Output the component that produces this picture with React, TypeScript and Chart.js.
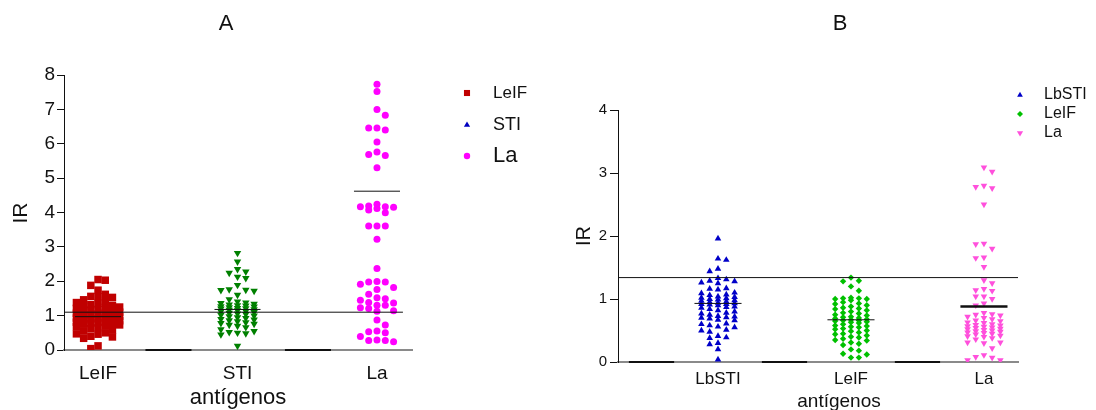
import React, { useEffect, useRef } from 'react';
import { Chart, registerables } from 'chart.js';

Chart.register(...registerables);

const FONT = '"Liberation Sans", Arial, Helvetica, sans-serif';

// ---------- Panel A ----------
const catsA = ['LeIF', 'STI', 'La'];
const yTicksA = [0, 1, 2, 3, 4, 5, 6, 7, 8];
const aLeIF = [2.05, 2.03, 1.88, 1.74, 1.62, 1.56, 1.55, 1.53, 1.46, 1.41, 1.38, 1.36, 1.32, 1.3, 1.27, 1.25, 1.24, 1.21, 1.18, 1.16, 1.14, 1.12, 1.1, 1.08, 1.07, 1.05, 1.02, 1.0, 0.99, 0.97, 0.95, 0.93, 0.92, 0.9, 0.88, 0.86, 0.85, 0.83, 0.81, 0.8, 0.78, 0.77, 0.75, 0.73, 0.7, 0.68, 0.65, 0.62, 0.58, 0.55, 0.5, 0.47, 0.46, 0.4, 0.38, 0.34, 0.12, 0.04];
const aSTI = [2.82, 2.57, 2.35, 2.28, 2.24, 2.13, 2.09, 1.89, 1.76, 1.75, 1.74, 1.72, 1.6, 1.47, 1.41, 1.38, 1.36, 1.34, 1.32, 1.3, 1.29, 1.27, 1.26, 1.24, 1.22, 1.21, 1.2, 1.18, 1.17, 1.15, 1.13, 1.12, 1.1, 1.08, 1.06, 1.04, 1.02, 1.0, 0.98, 0.95, 0.93, 0.9, 0.88, 0.86, 0.83, 0.8, 0.78, 0.76, 0.73, 0.7, 0.66, 0.6, 0.55, 0.52, 0.5, 0.48, 0.45, 0.12];
const aLa = [7.73, 7.52, 7.0, 6.83, 6.46, 6.46, 6.4, 6.05, 5.76, 5.69, 5.66, 5.3, 4.24, 4.19, 4.17, 4.17, 4.15, 4.12, 4.07, 3.99, 3.61, 3.61, 3.61, 3.22, 2.37, 1.99, 1.98, 1.98, 1.91, 1.82, 1.76, 1.62, 1.52, 1.49, 1.45, 1.38, 1.37, 1.3, 1.3, 1.23, 1.21, 1.14, 1.13, 0.87, 0.73, 0.55, 0.53, 0.5, 0.39, 0.29, 0.28, 0.28, 0.24];
const groupLinesA = [0.97, 1.18, 4.62];
const refLineA = 1.1;

// ---------- Panel B ----------
const catsB = ['LbSTI', 'LeIF', 'La'];
const yTicksB = [0, 1, 2, 3, 4];
const bLbSTI = [1.96, 1.64, 1.62, 1.48, 1.44, 1.33, 1.31, 1.29, 1.28, 1.26, 1.25, 1.17, 1.16, 1.15, 1.1, 1.09, 1.07, 1.06, 1.04, 1.03, 1.02, 1.01, 1.0, 0.99, 0.98, 0.97, 0.96, 0.95, 0.94, 0.93, 0.92, 0.92, 0.91, 0.9, 0.88, 0.87, 0.86, 0.84, 0.82, 0.8, 0.78, 0.77, 0.75, 0.73, 0.72, 0.71, 0.7, 0.69, 0.67, 0.66, 0.61, 0.6, 0.58, 0.56, 0.55, 0.51, 0.5, 0.48, 0.41, 0.39, 0.38, 0.3, 0.28, 0.2, 0.04];
const bLeIF = [1.34, 1.29, 1.28, 1.2, 1.13, 1.02, 1.01, 1.01, 1.0, 1.0, 0.98, 0.95, 0.93, 0.92, 0.9, 0.88, 0.86, 0.85, 0.84, 0.82, 0.8, 0.78, 0.77, 0.75, 0.74, 0.72, 0.71, 0.7, 0.69, 0.68, 0.67, 0.66, 0.66, 0.65, 0.64, 0.63, 0.62, 0.6, 0.58, 0.57, 0.56, 0.55, 0.53, 0.52, 0.5, 0.49, 0.47, 0.45, 0.44, 0.42, 0.4, 0.39, 0.37, 0.35, 0.34, 0.31, 0.29, 0.27, 0.2, 0.18, 0.13, 0.12, 0.07, 0.07];
const bLa = [3.09, 3.02, 2.8, 2.78, 2.76, 2.5, 1.88, 1.87, 1.8, 1.66, 1.65, 1.51, 1.3, 1.25, 1.16, 1.14, 1.13, 1.04, 1.04, 1.0, 0.93, 0.9, 0.78, 0.76, 0.75, 0.74, 0.72, 0.7, 0.68, 0.66, 0.65, 0.63, 0.62, 0.6, 0.59, 0.58, 0.57, 0.56, 0.55, 0.54, 0.53, 0.52, 0.51, 0.5, 0.49, 0.48, 0.47, 0.46, 0.45, 0.44, 0.42, 0.41, 0.4, 0.38, 0.36, 0.31, 0.31, 0.3, 0.22, 0.11, 0.08, 0.07, 0.03, 0.03];
const groupLinesB = [0.93, 0.67, 0.88];
const refLineB = 1.34;

type SwarmCfg = { pxX: number; pxY: number; step: number; dist: number; maxK: number };

// deterministic dot-plot layout: spreads points sideways in columns so they do not pile up
function swarm(values: number[], center: number, cfg: SwarmCfg) {
  const order = values.map((_, i) => i).sort((a, b) => values[b] - values[a]);
  const placed: { dx: number; py: number }[] = [];
  const out: { x: number; y: number }[] = new Array(values.length);
  let toggle = 1;
  const minDist = (dx: number, py: number) => {
    let md = Infinity;
    for (const p of placed) {
      const d = Math.hypot(dx - p.dx, py - p.py);
      if (d < md) md = d;
    }
    return md;
  };
  for (const i of order) {
    const py = values[i] * cfg.pxY;
    let chosen: number | null = null;
    let best = 0;
    let bestD = -1;
    for (let k = 0; k <= cfg.maxK && chosen === null; k++) {
      const opts = k === 0 ? [0] : [k * toggle, -k * toggle];
      const free: number[] = [];
      for (const kk of opts) {
        const md = minDist(kk * cfg.step, py);
        if (md >= cfg.dist) free.push(kk);
        if (md > bestD) {
          bestD = md;
          best = kk;
        }
      }
      if (free.length) {
        chosen = free[0];
        if (k > 0) toggle = -toggle;
      }
    }
    const k = chosen === null ? best : chosen;
    placed.push({ dx: k * cfg.step, py });
    out[i] = { x: center + (k * cfg.step) / cfg.pxX, y: values[i] };
  }
  return out;
}

type Marker = { style: string; color: string; r: number; rot: number };

function drawMarker(ctx: CanvasRenderingContext2D, m: Marker, x: number, y: number) {
  ctx.save();
  ctx.fillStyle = m.color;
  ctx.beginPath();
  const r = m.r;
  if (m.style === 'rect') {
    const s = r * Math.SQRT1_2;
    ctx.rect(x - s, y - s, 2 * s, 2 * s);
  } else if (m.style === 'circle') {
    ctx.arc(x, y, r, 0, Math.PI * 2);
  } else if (m.style === 'rectRot') {
    ctx.moveTo(x - r, y);
    ctx.lineTo(x, y - r);
    ctx.lineTo(x + r, y);
    ctx.lineTo(x, y + r);
    ctx.closePath();
  } else {
    let rad = (m.rot * Math.PI) / 180;
    ctx.moveTo(x + Math.sin(rad) * r, y - Math.cos(rad) * r);
    rad += (2 * Math.PI) / 3;
    ctx.lineTo(x + Math.sin(rad) * r, y - Math.cos(rad) * r);
    rad += (2 * Math.PI) / 3;
    ctx.lineTo(x + Math.sin(rad) * r, y - Math.cos(rad) * r);
    ctx.closePath();
  }
  ctx.fill();
  ctx.restore();
}

type DecoCfg = {
  title: string; titleX: number; titleY: number;
  yTitleX: number; yTitleY: number; yTitleSize: number;
  xTitleX: number; xTitleBase: number; xTitleSize: number;
  segments: number[][];
  legend: { label: string; marker: Marker; x: number; tx: number; y: number; size: number }[];
};

function makeDeco(cfg: DecoCfg) {
  return {
    id: 'deco',
    afterDraw(chart: any) {
      const ctx: CanvasRenderingContext2D = chart.ctx;
      const xs = chart.scales.x;
      const bottom = chart.chartArea.bottom;
      ctx.save();
      ctx.strokeStyle = '#111';
      ctx.lineWidth = 2;
      for (const [a, b] of cfg.segments) {
        ctx.beginPath();
        ctx.moveTo(xs.getPixelForValue(a), bottom);
        ctx.lineTo(xs.getPixelForValue(b), bottom);
        ctx.stroke();
      }
      ctx.fillStyle = '#111';
      ctx.textAlign = 'center';
      ctx.textBaseline = 'middle';
      ctx.font = `22px ${FONT}`;
      ctx.fillText(cfg.title, cfg.titleX, cfg.titleY);
      ctx.save();
      ctx.translate(cfg.yTitleX, cfg.yTitleY);
      ctx.rotate(-Math.PI / 2);
      ctx.font = `${cfg.yTitleSize}px ${FONT}`;
      ctx.fillText('IR', 0, 0);
      ctx.restore();
      ctx.textBaseline = 'alphabetic';
      ctx.font = `${cfg.xTitleSize}px ${FONT}`;
      ctx.fillText('antígenos', cfg.xTitleX, cfg.xTitleBase);
      ctx.textAlign = 'left';
      ctx.textBaseline = 'middle';
      for (const it of cfg.legend) {
        drawMarker(ctx, it.marker, it.x, it.y);
        ctx.fillStyle = '#111';
        ctx.font = `${it.size}px ${FONT}`;
        ctx.fillText(it.label, it.tx, it.y);
      }
      ctx.restore();
    },
  };
}

const lineDs = (pts: { x: number; y: number }[], width: number, color: string) => ({
  data: pts,
  showLine: true,
  pointRadius: 0,
  borderColor: color,
  borderWidth: width,
  fill: false,
  order: 0,
});

const pointDs = (pts: { x: number; y: number }[], m: Marker) => ({
  data: pts,
  showLine: false,
  pointStyle: m.style,
  pointRadius: m.r,
  pointRotation: m.rot,
  backgroundColor: m.color,
  borderColor: m.color,
  borderWidth: 0,
  order: 1,
});

function buildConfig(p: {
  cats: string[]; yTicks: number[]; groups: number[][]; markers: Marker[]; swarmCfg: SwarmCfg[];
  groupLines: number[]; groupLineWidths: number[]; halfW: number; ref: number; refTo: number;
  xmin: number; xmax: number; ymax: number; padTop: number; padRight: number;
  yWidth: number; xHeight: number; xTickSize: number; xTickPad: number; yTickSize: number;
  tickLen: number; yTickPad: number; deco: DecoCfg;
}) {
  const datasets: any[] = [];
  datasets.push(lineDs([{ x: p.xmin, y: p.ref }, { x: p.refTo, y: p.ref }], 1, '#111'));
  p.groupLines.forEach((v, i) => {
    datasets.push(lineDs([{ x: i + 1 - p.halfW, y: v }, { x: i + 1 + p.halfW, y: v }], p.groupLineWidths[i], '#111'));
  });
  p.groups.forEach((vals, i) => {
    datasets.push(pointDs(swarm(vals, i + 1, p.swarmCfg[i]), p.markers[i]));
  });
  return {
    type: 'scatter' as const,
    data: { datasets },
    options: {
      animation: false,
      responsive: false,
      events: [],
      layout: { padding: { top: p.padTop, right: p.padRight, bottom: 0, left: 0 } },
      plugins: { legend: { display: false }, tooltip: { enabled: false }, title: { display: false } },
      scales: {
        x: {
          type: 'linear',
          min: p.xmin,
          max: p.xmax,
          afterBuildTicks: (ax: any) => {
            ax.ticks = p.cats.map((_, i) => ({ value: i + 1 }));
          },
          ticks: {
            callback: (v: any) => p.cats[Math.round(v) - 1] ?? '',
            font: { family: FONT, size: p.xTickSize },
            color: '#111',
            padding: p.xTickPad,
            autoSkip: false,
            maxRotation: 0,
          },
          grid: { display: false, drawTicks: false },
          border: { display: true, color: '#8a8a8a', width: 2 },
          afterFit: (s: any) => {
            s.height = p.xHeight;
          },
        },
        y: {
          type: 'linear',
          min: 0,
          max: p.ymax,
          afterBuildTicks: (ax: any) => {
            ax.ticks = p.yTicks.map((v) => ({ value: v }));
          },
          ticks: { font: { family: FONT, size: p.yTickSize }, color: '#111', padding: p.yTickPad },
          grid: { drawOnChartArea: false, drawTicks: true, tickLength: p.tickLen, color: '#111' },
          border: { display: true, color: '#111', width: 1 },
          afterFit: (s: any) => {
            s.width = p.yWidth;
          },
        },
      },
    },
    plugins: [makeDeco(p.deco)],
  };
}

const mA: Marker[] = [
  { style: 'rect', color: '#c00000', r: 5.3, rot: 0 },
  { style: 'triangle', color: '#008000', r: 4.3, rot: 180 },
  { style: 'circle', color: '#ff00ff', r: 3.5, rot: 0 },
];
const mB: Marker[] = [
  { style: 'triangle', color: '#0000c8', r: 3.8, rot: 0 },
  { style: 'rectRot', color: '#00c000', r: 3.2, rot: 0 },
  { style: 'triangle', color: '#ff50dc', r: 3.8, rot: 180 },
];

export default function App() {
  const refA = useRef<HTMLCanvasElement>(null);
  const refB = useRef<HTMLCanvasElement>(null);

  useEffect(() => {
    const pxA = { pxX: 139.5, pxY: 34.375 };
    const pxB = { pxX: 133, pxY: 63 };
    const cfgA = buildConfig({
      cats: catsA, yTicks: yTicksA, groups: [aLeIF, aSTI, aLa], markers: mA,
      swarmCfg: [
        { ...pxA, step: 7.2, dist: 6.5, maxK: 3 },
        { ...pxA, step: 8.3, dist: 6.5, maxK: 2 },
        { ...pxA, step: 8.3, dist: 7.2, maxK: 2 },
      ],
      groupLines: groupLinesA, groupLineWidths: [1, 1, 1], halfW: 0.165,
      ref: refLineA, refTo: 3.186, xmin: 0.756, xmax: 3.251, ymax: 8,
      padTop: 75, padRight: 138, yWidth: 64, xHeight: 60,
      xTickSize: 19, xTickPad: 12, yTickSize: 19, tickLen: 7, yTickPad: 2,
      deco: {
        title: 'A', titleX: 226, titleY: 24,
        yTitleX: 21, yTitleY: 213, yTitleSize: 21,
        xTitleX: 238, xTitleBase: 404, xTitleSize: 22,
        segments: [[1.34, 1.67], [2.34, 2.67]],
        legend: [
          { label: 'LeIF', marker: { style: 'rect', color: '#c00000', r: 4.3, rot: 0 }, x: 467, tx: 493, y: 93, size: 17 },
          { label: 'STI', marker: { style: 'triangle', color: '#0000c0', r: 3.6, rot: 0 }, x: 467, tx: 493, y: 125, size: 18 },
          { label: 'La', marker: { style: 'circle', color: '#ff00ff', r: 3.2, rot: 0 }, x: 467, tx: 493, y: 156, size: 22 },
        ],
      },
    });
    const cfgB = buildConfig({
      cats: catsB, yTicks: yTicksB, groups: [bLbSTI, bLeIF, bLa], markers: mB,
      swarmCfg: [
        { ...pxB, step: 8.3, dist: 6, maxK: 2 },
        { ...pxB, step: 7.9, dist: 6, maxK: 2 },
        { ...pxB, step: 8.2, dist: 6, maxK: 2 },
      ],
      groupLines: groupLinesB, groupLineWidths: [1, 1, 2.5], halfW: 0.177,
      ref: refLineB, refTo: 3.256, xmin: 0.248, xmax: 3.256, ymax: 4,
      padTop: 110, padRight: 78, yWidth: 68, xHeight: 48,
      xTickSize: 17, xTickPad: 7, yTickSize: 15, tickLen: 8, yTickPad: 3,
      deco: {
        title: 'B', titleX: 290, titleY: 24,
        yTitleX: 34, yTitleY: 236, yTitleSize: 20,
        xTitleX: 289, xTitleBase: 407, xTitleSize: 19,
        segments: [[0.33, 0.67], [1.33, 1.67], [2.33, 2.67]],
        legend: [
          { label: 'LbSTI', marker: { style: 'triangle', color: '#0000c8', r: 3.3, rot: 0 }, x: 470, tx: 494, y: 95, size: 16 },
          { label: 'LeIF', marker: { style: 'rectRot', color: '#00c000', r: 3, rot: 0 }, x: 470, tx: 494, y: 114, size: 16 },
          { label: 'La', marker: { style: 'triangle', color: '#ff50dc', r: 3.6, rot: 180 }, x: 470, tx: 494, y: 133, size: 16 },
        ],
      },
    });
    const chA = new Chart(refA.current as HTMLCanvasElement, cfgA as any);
    const chB = new Chart(refB.current as HTMLCanvasElement, cfgB as any);
    return () => {
      chA.destroy();
      chB.destroy();
    };
  }, []);

  return (
    <div style={{ position: 'fixed', left: 0, top: 0, width: 1096, height: 410, background: '#fff' }}>
      <canvas ref={refA} width={550} height={410} style={{ position: 'absolute', left: 0, top: 0, width: 550, height: 410 }} />
      <canvas ref={refB} width={546} height={410} style={{ position: 'absolute', left: 550, top: 0, width: 546, height: 410 }} />
    </div>
  );
}
